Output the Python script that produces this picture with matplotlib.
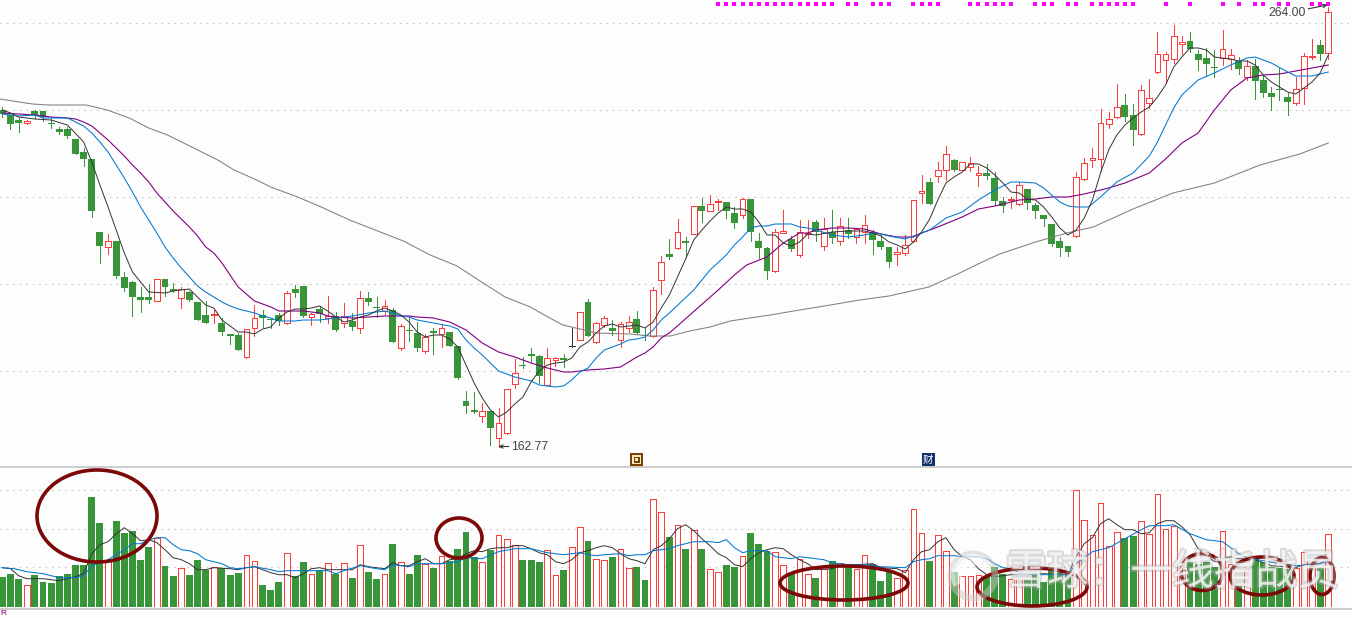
import matplotlib
matplotlib.use("Agg")
import matplotlib.pyplot as plt
import matplotlib.patheffects as pe
from matplotlib.patches import Ellipse, Rectangle, Circle, Wedge

W, H = 1352, 618
BG = "#FDFDFD"; RED = "#FF3D3D"; GREEN = "#399539"
BLACK = "#333333"; BLUE = "#0078D2"; PURPLE = "#80007F"; GRAY = "#808080"
GRID = "#C4C4C4"; RING = "#7D0808"; MAGENTA = "#FF00FF"

# Candle levels (axis is log-price, in chart levels)
directions = ("gggrgggggggggrgggggrggrgggrgggrrgggrggrgrg"
              "rgrggrgrggrgrggggrgrrrgggrrgkrgrrgrrggrr"
              "grgrgrrggrgggrrgrrgrgrgrrgggrrrrgrrgrrrgg"
              "grrggggggrrrrrrggrrrrrrggggrrgrgggggrrrgr")
highs = [358.7,351,347.7,346,356,355.3,347.7,339.3,339.3,327,317.7,307,234,231.7,225,194,185,179,181.7,186.7,186.7,183,178.7,175,164,165,156.7,147.7,131.7,132.7,136.7,161,156,147.3,152.7,175,181,180,153.3,159.3,170,154,
163,152.7,175,174,169,166,158,142,149.3,144.3,132.3,138,140.7,134,120,75.3,74,62.7,55.3,57.7,76.7,106.7,108.7,117.7,111,117.7,109.3,112,138.3,153.7,166.7,143.7,150,146,143.7,150,155,137.7,179.3,210,
227,246.7,229,259.7,268,270.7,267,264,258.7,268,267,233,218.7,236.7,256,230,246,246,246,247.7,256,248,248,237.7,251.3,236,230.7,219.3,218.7,230.7,266.3,291,288.3,303.7,320,306.7,303.7,308.7,300,301.7,294.3,
268.7,268.7,284.3,277,263.3,251,242.3,228.7,220,294,308,317.7,357,353.7,382,372,362,381,387,434,414.3,441,430,434,416,417.7,416,436,417,409.3,406,406.7,390.7,378.7,397.7,373,388.7,412.7,427,426,458.7]
body_tops = [356,351,346,345,355,355,343.3,337,336.7,327,314,307,234,224.7,225,189,184,169,169,186.7,186.7,176.7,177.3,174,164,151,152.3,143,131.7,130.7,136.7,147.7,150.7,147.3,151,172.7,177,180,152,157.3,150.3,150,
150.3,145.3,167.7,168,159,160.3,156,139.7,136,133,129,135,138,134,120,65,56,54.7,55,42.7,76.7,92.7,101,112,110,107.7,107.7,107.7,120.3,153.7,164,142.7,147.7,138,141.7,144.3,147,130.7,175.7,203.7,
212,233.7,225,259.7,259.7,261.7,264.7,264,253,266.7,267,225,218,233.7,234.7,227,233.7,233,244,237.3,233.7,240.3,236,237.3,240.7,234,225,219,213.7,220.7,265.7,274.7,284,295.7,311.7,306,303.7,302.7,292.7,293,287.7,
265,267,280.7,277,261,251,242,225,220,288.7,302.7,307.7,342.7,347.3,358.7,361,351,375.7,367.7,411.7,411.7,429.7,423.7,424.7,411.7,407.7,399,416.7,410.7,404.7,399.7,400,386,373,376.7,369,376.7,409.7,409.7,421.3,453.7]
body_bottoms = [352,342,343.3,343.3,350.7,349.3,342.3,334.3,330,312.3,307.3,255.3,220.3,219.3,190.3,178.3,169.3,166.3,166.3,165.3,179.3,174.7,167.7,166.3,146.3,143.3,151.3,134.3,130.3,116.3,108.7,137.7,148.3,146.3,144.7,142.7,173.3,150,148.7,152,148,136.3,
142.7,139,138.3,164,158,155.3,124.3,118.3,135,118,115,133,132.3,120,88,60,54,50.3,38,28.3,33.3,82.3,100,110.3,90.3,81.3,106,106,120.3,126.3,130.3,124.3,141.3,135,126.3,137.7,133,129.7,130,185.7,
209,217.7,223.3,232.3,255.3,255.3,263.7,255.3,243,250.7,234.3,218.3,195.3,194.7,233.3,217.3,211.3,232,233.7,220.3,228.3,224.7,232.3,229.3,233.7,226.3,219,204.3,211.7,213.3,224.7,272.7,262,289.7,295.7,296.3,295.7,298.7,290.7,290.3,265.3,
260.3,265.7,261.7,263.3,255.3,247,222,218.3,214.3,229.7,287.3,306,307.3,341.7,348.7,349.3,336.3,331.7,362.7,393.7,405.7,407.3,422.3,417,406.3,402.3,398.3,407.7,407,397,389.3,385.3,373.3,369.3,376.3,364.3,362.7,377.7,408.7,412.3,413.3]
lows = [348.7,337.3,334.3,341.7,348,344.7,338.3,332.3,328.3,312.3,300.3,249.3,203.3,212.3,188.3,175,150.3,154.3,163.3,164.7,170.3,174,158.3,165.3,146.3,143.3,143.3,131,122,116.3,107.7,130.3,139.3,137.7,141,141.7,169.3,149.3,141.3,143.7,143.3,135.3,
139,136.3,133,161.3,149.3,152.3,124,116.3,124.7,115,112.7,112,119,119.7,87,53,53.3,44.3,21,19.3,32,78.3,98.3,104.3,82.7,81,100,98.7,119.3,126,130,122.7,138.7,130.7,119.3,134,133,126,129.3,172,
207.3,217.3,209.3,232,244,255,256,248.3,238.3,248.3,225.3,208,187.3,194.3,233.3,215.3,209.3,227.7,225.3,216,222.7,221,228.3,223,223,212,217,199,201.3,210.7,224.3,263,262,284.3,286,295.3,295.3,295.3,280.3,287,261,
254.3,258.3,261.3,257,248.3,240.3,220.3,210.3,210.3,229.3,286.3,299.3,295.3,338,348.3,345,321.3,331.3,357.7,392.7,383.7,403.3,411.7,414.3,396.3,390,389.3,401,397,392,386,367.3,369,356,366,351,361,362.3,407,406,407]

# Price moving averages: bar number and level
ma5_x = [0,1,2,4,6,8,10,11,12,13,14,15,16,17,18,20,21,23,24,25,26,27,28,29,30,31,32,33,34,35,36,37,38,39,40,41,42,43,44,45,46,47,48,49,50,51,52,53,54,55,56,57,58,59,60,61,62,63,64,65,66,67,68,69,70,71,72,73,74,75,76,77,78,79,80,81,82,83,84,85,86,87,88,89,90,91,92,93,94,95,96,97,98,99,100,102,104,106,107,108,109,110,111,112,113,114,115,116,117,118,119,120,121,122,123,124,125,126,127,128,129,130,131,132,133,134,135,136,137,138,139,140,141,142,143,144,145,146,147,148,149,150,151,152,153,154,155,156,157,158,159,160,161,162,163]
ma5_v = [356,353,349,347,346,341,324,304,281,259,236,213,194,184,174,173,175,177,169,161,158,146,140,134,134,132,137,139,148,154,157,157,158,160,155,149,144,146,149,151,155,158,155,151,144,134,129,131,131,127,119,101,83,68,56,49,54,62,69,84,95,101,103,104,108,119,124,133,140,142,139,140,141,138,144,158,171,189,207,226,236,245,253,259,257,257,254,244,231,231,223,220,224,232,231,234,235,235,233,230,224,221,217,224,234,247,266,283,289,294,302,302,298,291,283,274,273,267,266,259,249,238,231,236,248,266,293,316,331,341,348,354,359,369,381,399,409,418,418,416,409,408,407,405,405,401,391,384,379,374,372,378,384,393,411]
ma10_x = [0,2,4,5,8,9,10,11,12,13,14,15,16,17,18,19,20,21,22,23,24,25,26,27,28,29,30,31,32,33,34,35,36,37,38,39,40,41,43,45,47,48,49,50,51,53,55,56,57,58,59,60,61,62,63,64,65,66,67,68,69,70,71,72,73,74,75,76,77,78,79,80,81,82,85,87,89,90,91,92,93,94,95,97,98,99,100,102,104,106,107,108,109,111,112,114,115,116,118,120,122,124,125,127,128,129,130,131,132,133.5,135,137,139,141,142,143,144,145,147,149,151,153,154,156,158,159,161,163]
ma10_v = [352,350,351,348,348,344,340,333,324,314,301,288,274,259,246,233,219,208,198,189,180,174,169,164,160,157,155,153,150,148,145,145,145,146,146,146,147,148,150,153,155,153,150,149,146,143,140,137,126,118,111,103,95,92,89,87,85,81,80,79,80,86,94,98,108,116,119,122,126,127,129,136,146,153,176,196,211,221,229,238,240,240,242,242,239,238,236,231,229,231,233,232,230,227,230,236,242,248,254,266,276,284,284,283,278,271,264,260,259,259,269,284,293,310,324,341,358,371,386,393,401,408,409,403,394,390,390,394]
ma20_x = [0,2,4,5,6,8,9,10,11,12,13,14,15,16,17,18,19,20,21,22,23,24,25,26,27,28,29,30,31,32,33,34,35,36,37,38,39,40,41,43,45,47,50,51,53,55,57,59,61,63,65,67,69,70,72,74,76,78,79,80,81,82,88,90,91.5,94,96,98,99,100,102,104,106,108,110,112,113,115,118,120,122,125,127,129,131,133,136,138,141,143,145,147,149,151,153,155,157,159,161,163]
ma20_v = [353,352,351,350,349,348,347,344,340,333,326,318,310,301,293,284,273,264,255,247,239,230,219,213,203,191,179,172,165,162,159,155,155,155,155,154,153,150,149,148,149,150,150,149,148,144,136,123,114,109,103,98,94,94,96,97,99,109,113,119,128,133,176,191,201,209,223,233,233,236,238,238,237,232,229,229,233,239,249,257,260,266,267,269,269,272,278,283,293,307,323,333,356,376,388,391,392,395,398,401]
ma60_x = [-0.3,3.7,5.7,10.3,12.9,15.6,18,20.3,22.8,26.5,28.5,31,33,36.3,39.2,42.7,45.2,49.3,52.6,55.9,59.1,61.8,64.9,67.3,68.9,71,73,77.2,79.6,82.1,84.5,87,89.5,91.9,94.4,98,101.8,105.4,109,113.9,117.7,120.2,122.6,127,130.9,134.1,139,143.9,149,154.6,159.5,163]
ma60_v = [367,362,361,361,356,348,338,331,321,306,296,287,279,269,259,246,238,225,211,200,183,169,159,148,141,137,133,132,130,130,135,139,145,148,151,156,161,166,170,179,193,203,212,224,233,239,257,273,283,301,312,323]

signal_bars = [88,89,90,91,92,93,94,95,96,97,98,99,100,101,102,104,105,107,108,109,112,113,114,115,119,120,121,122,123,124,127,128,129,131,132,134,135,136,137,138,139,143,146,150,152,154,155,157,158,161,162,163]

# Volume bars (same direction as the candles)
volumes = [30,33,28,22,32,25,24,31,33,42,42,110,84,47,86,74,76,47,60,69,41,31,39,32,47,37,40,39,32,34,52,46,22,17,25,54,31,45,33,37,44,33,
44,29,62,35,28,33,63,45,33,52,43,39,51,46,58,75,50,45,57,72,68,62,47,47,45,57,32,37,60,80,66,48,47,50,58,39,40,27,108,95,70,82,
58,77,58,38,35,42,40,51,74,63,56,55,42,33,48,33,29,38,46,44,40,38,52,43,26,35,29,37,98,74,46,72,56,35,31,31,32,30,40,33,28,
28,28,33,25,40,35,32,117,87,72,104,61,75,69,71,86,73,113,78,81,37,45,43,45,40,76,43,22,37,50,45,40,39,38,39,55,41,40,73]
vol5_x = [0,1,2,3,5,7,9,10,11,12,13,14,15,16,17,18,19,20,21,22,23,24,25,26,28,29,30,31,32,33,34,35,36,37,38,39,40,41,42,43,44,45,46,47,48,49,50,51,52,53,54,55,56,57,58,59,60,61,62,63,64,65,66,67,68,69,70,71,72,73,74,75,76,77,78,79,80,81,82,83,84,85,86,87,88,89,90,91,92,93,94,95,96,97,98,99,100,102,103,105,107,108,110,111,112,113,114,115,116,117,118,119,120,121,122,125,128,131,132,133,134,135,136,137,138,139,140,141,142,143,144,145,146,147,148,149,150,151,152,153,154,156,159,160,162,163]
vol5_v = [39,38,31,28,28,26,30,33,53,62,65,73,79,73,66,67,64,57,49,47,43,37,37,39,38,37,39,40,37,34,32,32,29,33,38,39,37,37,37,37,42,40,39,38,44,41,41,45,48,43,43,47,48,53,56,55,58,59,59,61,61,58,54,52,45,43,47,54,56,59,61,59,53,48,46,43,57,61,68,78,82,76,68,61,53,49,42,40,48,54,57,59,58,52,47,43,37,38,41,42,43,39,38,34,47,55,57,65,69,57,50,47,38,32,30,33,33,32,50,63,69,83,88,82,77,77,73,74,83,86,86,80,72,58,52,45,48,50,48,48,47,41,39,42,43,49]
vol10_x = [0,1.5,3,5,7,9,10,11,13,14,15,16,17,18,19,20,21,22,23,24,25,26,27,28,29,30,31,33,34,35,36,38,40,41,42,44,46,47,48,50,51,53,54,56,57,59,61,63,65,67,69,71,72,73,74,76,77,78,79,80,82,83,84,85,87,88,89,90,91,92,94,95,97,98,99,101,102,104,106,108,111,112,113,114,115,117,118,120,121,122,123,124,125,127,131,132,134,136,138,140,141,143,144,146,148,150,152,153,155,157,159,161,163]
vol10_v = [39,38,35,33,29,29,31,41,47,52,57,63,63,67,69,69,62,57,56,53,47,45,43,39,38,39,40,37,35,36,36,36,36,33,36,41,38,37,42,40,43,43,43,45,49,48,55,58,58,54,52,54,52,51,52,53,51,52,52,56,58,61,63,65,65,64,67,59,54,56,56,50,48,50,49,47,44,42,42,40,39,45,47,48,51,51,50,50,48,43,39,38,34,32,32,43,55,59,68,77,81,81,82,73,67,65,53,49,46,43,41,42,45]

price_grid = [443,356,269,182,95]
volume_grid = [116.7,77.7,39.7]
low_label = "162.77"; high_label = "264.00"; watermark = "雪球：一线指战员"

fig = plt.figure(figsize=(W/100, H/100), dpi=100, facecolor=BG)
def axes_px(top, bottom):
    return fig.add_axes([0, 1-bottom/H, 1, (bottom-top)/H], facecolor="none")
X0, DX = 2.3, 8.135
xlim = (-X0/DX, (W-X0)/DX)

ax = axes_px(0, 466)
ax.set_xlim(xlim); ax.set_ylim(0, 466); ax.axis("off")
vx = axes_px(467, 606.7)
vx.set_xlim(xlim); vx.set_ylim(0, 139.7); vx.axis("off")
dots = (0, (1.4, 4.4))
ax.hlines(price_grid, *xlim, color=GRID, lw=0.8, ls=dots, zorder=1)
vx.hlines(volume_grid, *xlim, color=GRID, lw=0.8, ls=dots, zorder=1)

for i, d in enumerate(directions):
    col = {"g": GREEN, "r": RED, "k": BLACK}[d]
    ax.vlines(i, lows[i], highs[i], color=col, lw=0.72, zorder=2, antialiased=False)
    if d == "k":
        ax.hlines(body_tops[i], i-0.38, i+0.38, color=col, lw=0.72, zorder=3, antialiased=False)
    elif d == "g":
        ax.bar(i, body_tops[i]-body_bottoms[i], 0.85, body_bottoms[i], color=col, lw=0, zorder=3)
    else:
        ax.bar(i, body_tops[i]-body_bottoms[i], 0.70, body_bottoms[i], facecolor=BG,
               edgecolor=col, lw=0.72, zorder=3, antialiased=False)
    if d == "g":
        vx.bar(i, volumes[i], 0.85, color=GREEN, lw=0, zorder=3)
    else:
        vx.bar(i, volumes[i], 0.70, facecolor=BG, edgecolor=RED, lw=0.72, zorder=3, antialiased=False)

ax.plot(ma60_x, ma60_v, color=GRAY, lw=0.75, zorder=4)
ax.plot(ma20_x, ma20_v, color=PURPLE, lw=0.8, zorder=5)
ax.plot(ma10_x, ma10_v, color=BLUE, lw=0.75, zorder=5)
ax.plot(ma5_x, ma5_v, color=BLACK, lw=0.7, zorder=6)
vx.plot(vol5_x, vol5_v, color=BLACK, lw=0.7, zorder=5)
vx.plot(vol10_x, vol10_v, color=BLUE, lw=0.75, zorder=5)

ax.scatter(signal_bars, [461.7]*len(signal_bars), marker="s", s=5.5, color=MAGENTA, lw=0, zorder=7)

arrow = dict(arrowstyle="->", color="#333333", lw=0.8, shrinkA=0, shrinkB=0, mutation_scale=6)
ax.annotate(low_label, xy=(61, 19.5), xytext=(13, 0), textcoords="offset pixels", ha="left", va="center",
            fontsize=8.8, family="Liberation Sans", color="#444444", arrowprops=arrow, zorder=8)
ax.annotate(high_label, xy=(162.9, 461), xytext=(-22, -8), textcoords="offset pixels", ha="right", va="center",
            fontsize=8.8, family="Liberation Sans", color="#444444", arrowprops=arrow, zorder=8)

# Overlay in picture coordinates for the hand drawn marks and the frame
ov = fig.add_axes([0, 0, 1, 1], facecolor="none")
ov.set_xlim(0, W); ov.set_ylim(H, 0); ov.axis("off")
ov.hlines([467, 608.5], 0, W, color="#C4C4C4", lw=1.2, zorder=2)
for cx, cy, w, h in [(97,516,120,92),(459,538,46,40),(844,583,128,34),(1032,587,110,38),
                     (1202,572,42,37),(1262,576,64,38),(1322,576,24,37)]:
    ov.add_patch(Ellipse((cx, cy), w, h, fill=False, ec=RING, lw=2.6, zorder=4))

# small icons
ov.add_patch(Rectangle((630,453), 13, 13, fc="#7A3E00", ec="none", zorder=3))
ov.add_patch(Rectangle((632,455), 9, 9, fc="#F4E8C8", ec="none", zorder=3))
ov.add_patch(Rectangle((633.5,456.5), 6, 6, fc="#7A3E00", ec="none", zorder=3))
ov.add_patch(Rectangle((635,458), 3, 3, fc="#F4E8C8", ec="none", zorder=3))
ov.add_patch(Rectangle((921.5,453), 13, 13, fc="#12306A", ec="none", zorder=3))
ov.text(928, 459.5, "财", color="white", fontsize=7.5, ha="center", va="center",
        family="Noto Sans CJK SC", zorder=4)
ov.text(0.5, 613.5, "R", color=PURPLE, fontsize=6, ha="left", va="center", family="Liberation Sans", zorder=4)

# watermark
ov.add_patch(Circle((973,576), 22, fill=False, ec="#C8C8C8", lw=5, alpha=0.5, zorder=5))
ov.add_patch(Wedge((973,576), 22, 150, 330, width=11, fc="white", ec="none", alpha=0.55, zorder=5))
ov.text(1172, 573, watermark, color="white", alpha=0.66, fontsize=30, ha="center", va="center",
        family=["Noto Sans CJK SC", "DejaVu Sans"], zorder=6,
        path_effects=[pe.withStroke(linewidth=3.0, foreground="#AAAAAA", alpha=0.42)])

fig.savefig("out.png", dpi=100, facecolor=BG)
